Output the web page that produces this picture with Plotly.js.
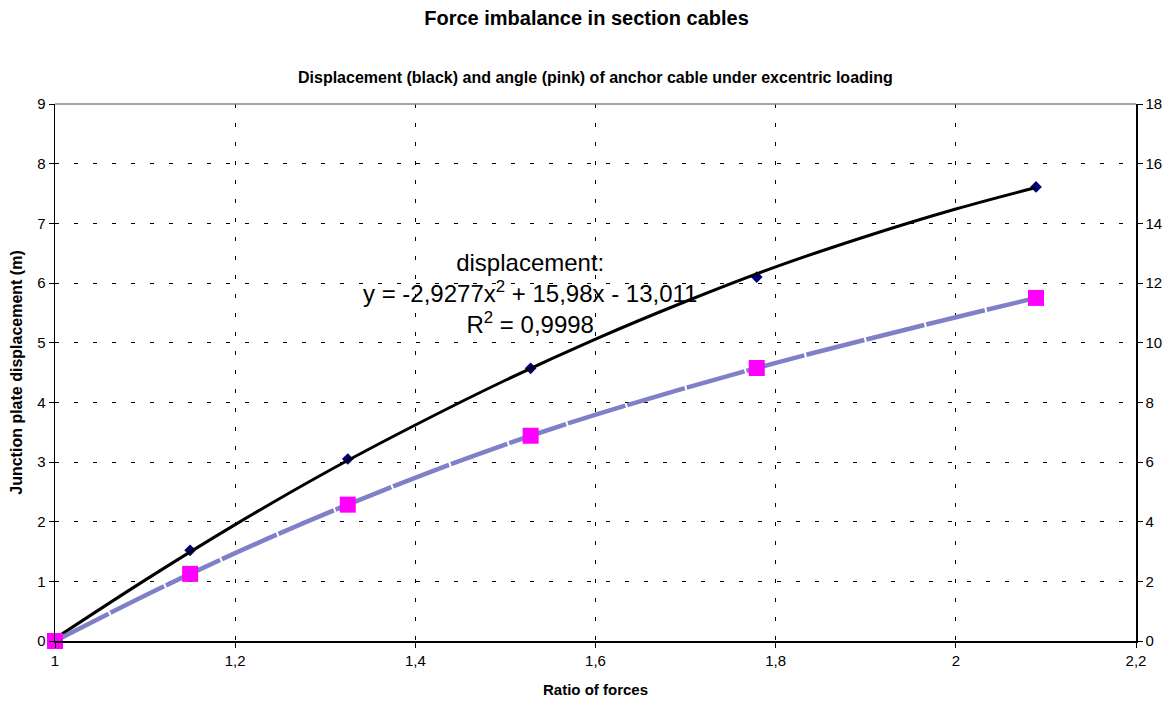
<!DOCTYPE html>
<html>
<head>
<meta charset="utf-8">
<script src="https://cdn.plot.ly/plotly-3.0.1.min.js"></script>
<style>html,body{margin:0;padding:0;background:#fff;}#chart{width:1173px;height:704px;}</style>
</head>
<body>
<div id="chart"></div>
<script>
// Ratio of forces
const ratios = [1, 1.15, 1.325, 1.528, 1.779, 2.089];
// Junction plate displacement (m), left axis
const displacement = [0, 1.52, 3.05, 4.57, 6.10, 7.61];
// Anchor cable angle, right axis
const angle = [0, 2.25, 4.57, 6.88, 9.15, 11.5];
// Displacement trendline, points
const trendX = [1, 1.1, 1.2, 1.3, 1.4, 1.5, 1.6, 1.7, 1.8, 1.9, 2.0, 2.089];
const trendY = [0.04, 1.02, 1.95, 2.82, 3.62, 4.37, 5.06, 5.69, 6.27, 6.78, 7.24, 7.60];
const annotationText = 'displacement:<br>y = -2,9277x<sup>2</sup> + 15,98x - 13,011<br>R<sup>2</sup> = 0,9998';

const font = 'Liberation Sans, Arial, sans-serif';

const traces = [
  {x: ratios, y: angle, yaxis: 'y2', mode: 'lines', line: {color: '#8080c8', width: 4.5, shape: 'spline', dash: '60px,2px'}, hoverinfo: 'skip', cliponaxis: false},
  {x: ratios, y: angle, yaxis: 'y2', mode: 'markers', marker: {symbol: 'square', size: 16, color: '#ff00ff'}, cliponaxis: false},
  {x: ratios, y: displacement, mode: 'markers', marker: {symbol: 'diamond', size: 9, color: '#000080'}, cliponaxis: false},
  {x: trendX, y: trendY, mode: 'lines', line: {color: '#000000', width: 3, shape: 'spline'}, cliponaxis: false}
];

const layout = {
  width: 1173, height: 704,
  paper_bgcolor: '#fff', plot_bgcolor: '#fff',
  separators: ', ',
  showlegend: false,
  margin: {l: 55, r: 37, t: 104, b: 63, pad: 0},
  font: {family: font, color: '#000', size: 15},
  title: {text: '<b>Force imbalance in section cables</b>', x: 0.5, xanchor: 'center', y: 0.974, yanchor: 'middle', font: {size: 20, family: font}},
  xaxis: {
    range: [1, 2.2], dtick: 0.2, tick0: 1, showgrid: true, gridcolor: '#000', griddash: '4px,15px', gridwidth: 1,
    showline: true, linecolor: '#000', linewidth: 1.5, ticks: 'outside', ticklen: 5, tickcolor: '#000',
    zeroline: false, tickfont: {size: 15},
    title: {text: '<b>Ratio of forces</b>', font: {size: 15}, standoff: 17}
  },
  yaxis: {
    range: [0, 9], dtick: 1, showgrid: true, gridcolor: '#000', griddash: '4px,15px', gridwidth: 1,
    showline: true, linecolor: '#000', linewidth: 1.5, ticks: 'outside', ticklen: 5, tickcolor: '#000',
    zeroline: false, tickfont: {size: 15},
    title: {text: '<b>Junction plate displacement (m)</b>', font: {size: 16}, standoff: 10}
  },
  yaxis2: {
    range: [0, 18], dtick: 2, overlaying: 'y', side: 'right', showgrid: false,
    showline: true, linecolor: '#000', linewidth: 1.5, ticks: 'outside', ticklen: 5, tickcolor: '#000',
    zeroline: false, tickfont: {size: 15}
  },
  shapes: [
    {type: 'line', xref: 'paper', yref: 'paper', x0: 0, x1: 1, y0: 1, y1: 1, line: {color: '#888', width: 1.5}}
  ],
  annotations: [
    {text: '<b>Displacement (black) and angle (pink) of anchor cable under excentric loading</b>', xref: 'paper', yref: 'paper', x: 0.5, y: 1, yshift: 27, xanchor: 'center', yanchor: 'middle', showarrow: false, font: {size: 16, family: font}},
    {text: annotationText, xref: 'x', yref: 'y', x: 1.527, y: 5.83, xanchor: 'center', yanchor: 'middle', showarrow: false, align: 'center', font: {size: 24, family: font}}
  ]
};

Plotly.newPlot('chart', traces, layout, {displayModeBar: false, staticPlot: true});
</script>
</body>
</html>
